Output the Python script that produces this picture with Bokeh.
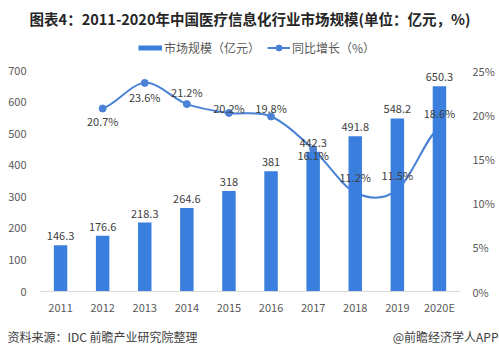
from bokeh.plotting import figure
from bokeh.layouts import column
from bokeh.models import (Range1d, LinearAxis, FixedTicker, Legend, LegendItem,
                          ColumnDataSource, PrintfTickFormatter)
from bokeh.core.properties import value
from bokeh.embed import file_html
from bokeh.resources import INLINE

# ---- data ----
years = ["2011", "2012", "2013", "2014", "2015", "2016", "2017", "2018", "2019", "2020E"]
market = [146.3, 176.6, 218.3, 264.6, 318, 381, 442.3, 491.8, 548.2, 650.3]
growth_years = ["2012", "2013", "2014", "2015", "2016", "2017", "2018", "2019", "2020E"]
growth = [20.7, 23.6, 21.2, 20.2, 19.8, 16.1, 11.2, 11.5, 18.6]
left_ticks = [0, 100, 200, 300, 400, 500, 600, 700]
right_ticks = [0, 5, 10, 15, 20, 25]

title_text = "图表4：2011-2020年中国医疗信息化行业市场规模(单位：亿元，%)"
legend_bar = "市场规模（亿元）"
legend_line = "同比增长（%）"
source_text = "资料来源：IDC 前瞻产业研究院整理"
credit_text = "@前瞻经济学人APP"

# ---- style ----
FONT = "Noto Sans CJK SC"
BAR_COLOR = "#3b7fde"
LINE_COLOR = "#4a82d8"
TEXT_COLOR = "#404040"
AXIS_TEXT = "#595959"
pct_label_dy = [12, 14, -12, -5, -8, 6, -15, -15, -14]  # screen px offsets (+ = down)
WIDTH = 499


def bare_figure(h):
    f = figure(width=WIDTH, height=h, x_range=Range1d(0, WIDTH), y_range=Range1d(h, 0),
               output_backend="svg", toolbar_location=None, x_axis_location=None,
               y_axis_location=None, min_border=0, frame_align=False)
    f.outline_line_color = None
    f.xgrid.visible = False
    f.ygrid.visible = False
    return f


xpos = [years.index(y) + 1 for y in years]
gpos = [years.index(y) + 1 for y in growth_years]

# ---------------- header: title + legend ----------------
HEAD_H = 62
head = bare_figure(HEAD_H)
head.text(x=[WIDTH / 2], y=[18], text=[title_text], text_align="center", text_baseline="middle",
          text_font=value(FONT), text_font_size="14.5px", text_font_style="bold",
          text_color="#262626")
# hidden proxies carrying the series' styles for the legend symbols
bar_proxy = head.line(x=xpos, y=market, line_color=BAR_COLOR, line_width=5, visible=False)
line_proxy = head.line(x=gpos, y=growth, line_color=LINE_COLOR, line_width=2, visible=False)
pt_proxy = head.scatter(x=gpos, y=growth, marker="circle", size=6, fill_color=LINE_COLOR,
                        line_color=LINE_COLOR, visible=False)
common = dict(orientation="horizontal", glyph_height=15, label_standoff=2, padding=0, margin=0,
              border_line_color=None, background_fill_alpha=0, label_text_font=FONT,
              label_text_font_size="12px", label_text_color=AXIS_TEXT, label_height=15)
lg1 = Legend(items=[LegendItem(label=legend_bar, renderers=[bar_proxy])], location=(138, 6),
             glyph_width=24, **common)
lg2 = Legend(items=[LegendItem(label=legend_line, renderers=[line_proxy, pt_proxy])],
             location=(267, 6), glyph_width=23, **common)
head.add_layout(lg1)
head.add_layout(lg2)

# ---------------- main chart ----------------
p = figure(width=WIDTH, height=258, x_range=Range1d(0.5, 10.5), y_range=Range1d(0, 700),
           output_backend="svg", toolbar_location=None, frame_align=False,
           min_border_left=39, min_border_right=39, min_border_top=8, min_border_bottom=29)
p.extra_y_ranges = {"pct": Range1d(0, 25)}
p.outline_line_color = None
p.xgrid.visible = False
p.ygrid.visible = False


def style_axis(ax, standoff):
    ax.major_tick_line_color = None
    ax.minor_tick_line_color = None
    ax.major_tick_out = 0
    ax.major_tick_in = 0
    ax.minor_tick_out = 0
    ax.minor_tick_in = 0
    ax.major_label_standoff = standoff
    ax.major_label_text_font = FONT
    ax.major_label_text_font_size = "11px"
    ax.major_label_text_color = AXIS_TEXT


xa = p.xaxis[0]
xa.ticker = FixedTicker(ticks=xpos)
xa.major_label_overrides = {x: y for x, y in zip(xpos, years)}
xa.axis_line_color = "#d9d9d9"
style_axis(xa, 7)

ya = p.yaxis[0]
ya.ticker = FixedTicker(ticks=left_ticks)
ya.axis_line_color = None
style_axis(ya, 13)

ra = LinearAxis(y_range_name="pct", ticker=FixedTicker(ticks=right_ticks),
                formatter=PrintfTickFormatter(format="%d%%"))
ra.axis_line_color = None
style_axis(ra, 12)
p.add_layout(ra, "right")

# smooth growth curve (bezier segments, Excel-style smoothing)
n = len(growth)
tang = []
for i in range(n):
    a = growth[i - 1] if i > 0 else growth[i]
    b = growth[i + 1] if i < n - 1 else growth[i]
    tang.append((b - a) / 2.0)
bz = dict(x0=[], y0=[], x1=[], y1=[], cx0=[], cy0=[], cx1=[], cy1=[])
for i in range(n - 1):
    bz["x0"].append(gpos[i]); bz["y0"].append(growth[i])
    bz["x1"].append(gpos[i + 1]); bz["y1"].append(growth[i + 1])
    bz["cx0"].append(gpos[i] + (gpos[i + 1] - gpos[i]) / 3.0)
    bz["cy0"].append(growth[i] + tang[i] / 3.0)
    bz["cx1"].append(gpos[i + 1] - (gpos[i + 1] - gpos[i]) / 3.0)
    bz["cy1"].append(growth[i + 1] - tang[i + 1] / 3.0)
p.bezier(source=ColumnDataSource(bz), x0="x0", y0="y0", x1="x1", y1="y1",
         cx0="cx0", cy0="cy0", cx1="cx1", cy1="cy1",
         line_color=LINE_COLOR, line_width=2, y_range_name="pct")
p.scatter(x=gpos, y=growth, size=7, marker="circle", fill_color=LINE_COLOR,
          line_color=LINE_COLOR, y_range_name="pct")

# bars (drawn over the curve)
p.vbar(x=xpos, top=market, width=0.32, fill_color=BAR_COLOR, line_color=None)

p.text(x=xpos, y=market, text=[f"{v:g}" for v in market], text_align="center",
       text_baseline="bottom", y_offset=-5, text_font=value(FONT), text_font_size="11px",
       text_color=TEXT_COLOR)
p.text(x=gpos, y=growth, text=[f"{g}%" for g in growth], text_align="center",
       text_baseline="middle", y_offset=pct_label_dy, text_font=value(FONT),
       text_font_size="11px", text_color=TEXT_COLOR, y_range_name="pct")

# ---------------- footer ----------------
FOOT_H = 35
foot = bare_figure(FOOT_H)
foot.text(x=[7], y=[16], text=[source_text], text_align="left", text_baseline="middle",
          text_font=value(FONT), text_font_size="12px", text_color=TEXT_COLOR)
foot.text(x=[WIDTH - 1], y=[16], text=[credit_text], text_align="right", text_baseline="middle",
          text_font=value(FONT), text_font_size="12px", text_color=TEXT_COLOR)

layout = column(head, p, foot, spacing=0)
open("out.html", "w").write(file_html(layout, INLINE))
